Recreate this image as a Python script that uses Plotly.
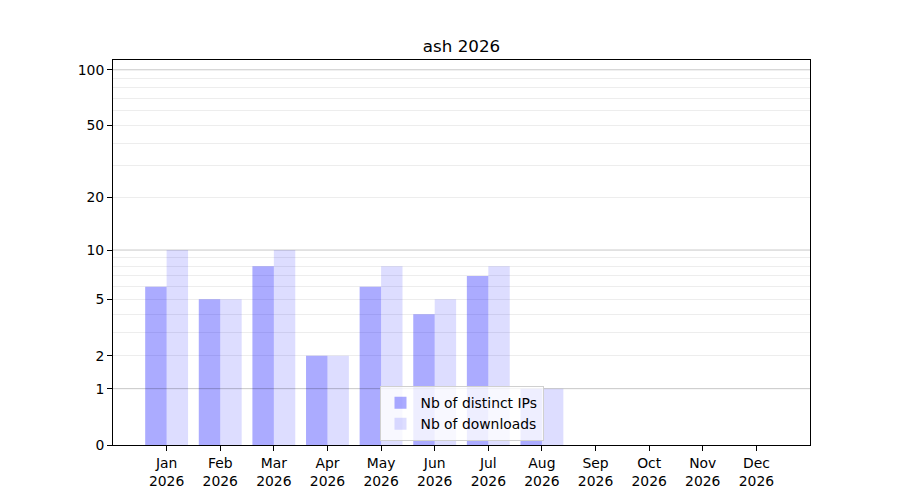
import plotly.graph_objects as go

# données
months = ["Jan", "Feb", "Mar", "Apr", "May", "Jun", "Jul", "Aug", "Sep", "Oct", "Nov", "Dec"]
year = "2026"
distinct_ips = [6, 5, 8, 2, 6, 4, 7, 1, 0, 0, 0, 0]
downloads = [10, 5, 10, 2, 8, 5, 8, 1, 0, 0, 0, 0]
y_ticks = [0, 1, 2, 5, 10, 20, 50, 100]
major_grid = [1, 10, 100]
minor_grid = [2, 3, 4, 5, 6, 7, 8, 9, 20, 30, 40, 50, 60, 70, 80, 90]

x_labels = [f"{m}<br>{year}" for m in months]
x_idx = list(range(len(months)))

fig = go.Figure()
# échelle log(1+x) : on trace 1+valeur sur un axe log
fig.add_trace(go.Bar(
    x=x_idx, y=[v + 1 for v in distinct_ips],
    name="Nb of distinct IPs",
    marker=dict(color="rgba(0,0,255,0.33)", line=dict(width=0)),
))
fig.add_trace(go.Bar(
    x=x_idx, y=[v + 1 for v in downloads],
    name="Nb of downloads",
    marker=dict(color="rgba(0,0,255,0.135)", line=dict(width=0)),
))

for g in major_grid:
    fig.add_shape(type="line", xref="paper", x0=0, x1=1,
                  yref="y", y0=g + 1, y1=g + 1,
                  line=dict(color="rgba(0,0,0,0.22)", width=1), layer="above")

fig.update_layout(
    width=900, height=500,
    margin=dict(l=105, r=98, t=52, b=63),
    paper_bgcolor="white", plot_bgcolor="white",
    font=dict(family="DejaVu Sans", size=13.9, color="black"),
    title=dict(text="ash 2026", x=(105 + 802) / 2 / 900, xanchor="center",
               y=1 - 38 / 500, yanchor="middle", font=dict(size=16.7)),
    barmode="group", bargap=0.2, bargroupgap=0,
    legend=dict(x=0.5, xanchor="center", y=0.01, yanchor="bottom",
                bgcolor="rgba(255,255,255,0.8)", bordercolor="#d0d0d0", borderwidth=1,
                font=dict(size=13.9), tracegroupgap=0),
    showlegend=True,
)
fig.update_xaxes(
    range=[-1, 12], tickvals=x_idx, ticktext=x_labels,
    showline=True, linecolor="black", linewidth=1, mirror=True,
    ticks="outside", ticklen=5, tickcolor="black", showgrid=False, zeroline=False,
)
fig.update_yaxes(
    type="log", range=[0, 2.0566],
    tickvals=[t + 1 for t in y_ticks], ticktext=[str(t) for t in y_ticks],
    showline=True, linecolor="black", linewidth=1, mirror=True,
    ticks="outside", ticklen=5, tickcolor="black", showgrid=False, zeroline=False,
    minor=dict(tickvals=[t + 1 for t in minor_grid], showgrid=True,
               gridcolor="rgba(0,0,0,0.07)", gridwidth=1, ticks=""),
)

fig.write_html("out.html")
